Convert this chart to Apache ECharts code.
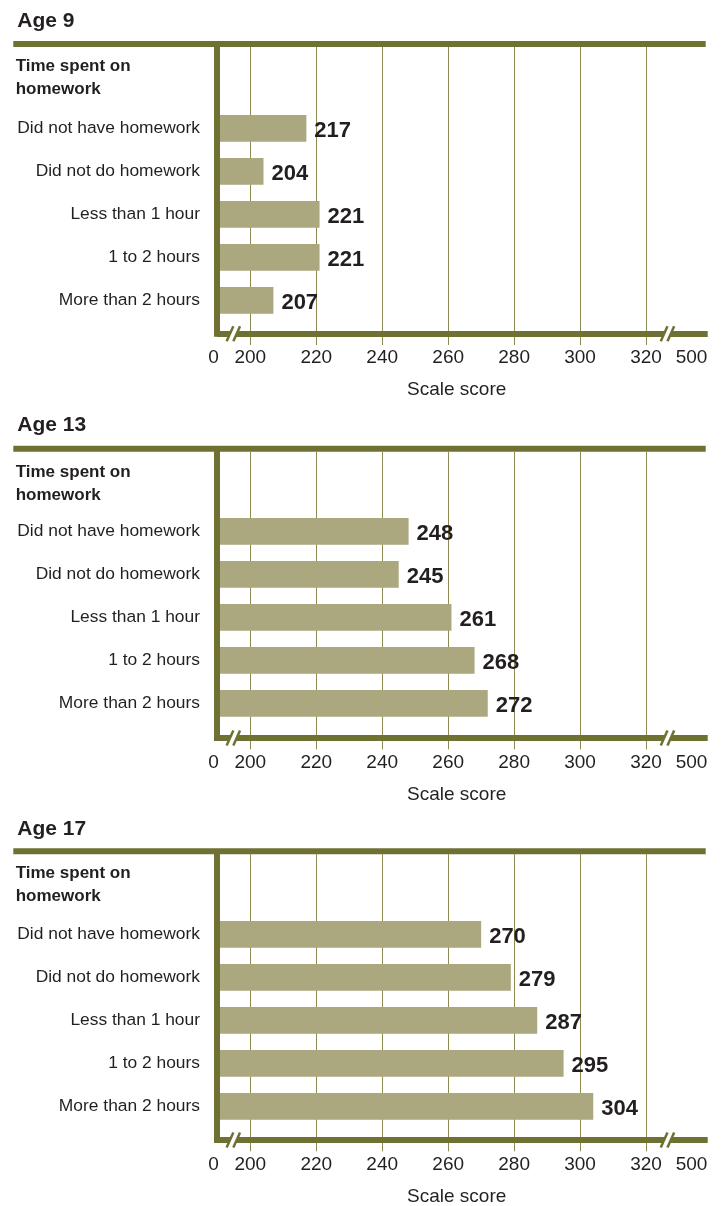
<!DOCTYPE html>
<html>
<head>
<meta charset="utf-8">
<script src="https://cdn.jsdelivr.net/npm/echarts@6/dist/echarts.min.js"></script>
<style>
  html, body { margin: 0; padding: 0; background: #ffffff; }
  #chart { width: 723px; height: 1206px; }
</style>
</head>
<body>
<div id="chart"></div>
<script>
// ---- data ----
const categories = ['Did not have homework', 'Did not do homework', 'Less than 1 hour', '1 to 2 hours', 'More than 2 hours'];
const panelTitles = ['Age 9', 'Age 13', 'Age 17'];
const scoresAge9 = [217, 204, 221, 221, 207];
const scoresAge13 = [248, 245, 261, 268, 272];
const scoresAge17 = [270, 279, 287, 295, 304];
const tickValues = [200, 220, 240, 260, 280, 300, 320];
const breakLowLabel = '0';
const breakHighLabel = '500';
const groupHeading = 'Time spent on\nhomework';
const axisTitle = 'Scale score';

const panelScores = [scoresAge9, scoresAge13, scoresAge17];

// ---- look & layout ----
const OLIVE = '#6f7132';
const GRID_COLOR = '#8d8b52';
const BAR_COLOR = '#aba77f';
const INK = '#231f20';
const FONT = "'Liberation Sans', Arial, Helvetica, sans-serif";

const X_MIN = 189.9;            // left end of the broken scale
const X_MAX = 338.7;            // right end of the broken scale
const HIGH_LABEL_AT = 333.8;    // the "500" label sits past the right break
const BREAK_AT = [194.85, 326.5];
const GRID_LEFT = 217;
const GRID_RIGHT = 723 - 707.7;
const BAND = 43;

const panels = [
  { title: 21.7,  rule: 44,    heading: 54.5,  catTop: 106.8, axis: 333.7 },
  { title: 425.3, rule: 448.8, heading: 460.7, catTop: 509.8, axis: 738 },
  { title: 829,   rule: 851.2, heading: 861.8, catTop: 912.8, axis: 1140 }
];

const grid = [], xAxis = [], yAxis = [], series = [];

panels.forEach((p, i) => {
  const frameTop = p.rule + 3;
  const frameGrid = grid.length;
  grid.push({ left: GRID_LEFT, right: GRID_RIGHT, top: frameTop, height: p.axis - frameTop });
  const barGrid = grid.length;
  grid.push({ left: GRID_LEFT, right: GRID_RIGHT, top: p.catTop, height: BAND * categories.length });

  // vertical grid lines and the short ticks under the axis
  xAxis.push({
    type: 'value', gridIndex: frameGrid, position: 'bottom', min: X_MIN, max: X_MAX, z: 0,
    axisLine: { show: false },
    axisLabel: { show: false },
    axisTick: { show: true, customValues: tickValues, length: 11.3, lineStyle: { color: GRID_COLOR, width: 1 } },
    splitLine: { show: true, lineStyle: { color: GRID_COLOR, width: 1 } }
  });
  // heavy bottom axis with its labels
  xAxis.push({
    type: 'value', gridIndex: frameGrid, position: 'bottom', min: X_MIN, max: X_MAX, z: 2,
    axisLine: { show: true, lineStyle: { color: OLIVE, width: 6, cap: 'butt' } },
    axisTick: { show: false },
    splitLine: { show: false },
    axisLabel: {
      show: true,
      customValues: [X_MIN].concat(tickValues, [HIGH_LABEL_AT]),
      margin: 15, color: INK, fontFamily: FONT, fontSize: 19,
      formatter: v => v === X_MIN ? '{lo|' + breakLowLabel + '}' : (v === HIGH_LABEL_AT ? breakHighLabel : String(v)),
      rich: { lo: { padding: [0, 7, 0, 0], fontSize: 19, fontFamily: FONT, color: INK } }
    }
  });
  // scale used by the bars
  const barX = xAxis.length;
  xAxis.push({ type: 'value', gridIndex: barGrid, position: 'bottom', min: X_MIN, max: X_MAX, show: false });

  // heavy left axis
  yAxis.push({
    type: 'value', gridIndex: frameGrid, position: 'left', min: 0, max: 1, z: 3,
    axisLine: { show: true, lineStyle: { color: OLIVE, width: 6, cap: 'square' } },
    axisTick: { show: false }, axisLabel: { show: false }, splitLine: { show: false }
  });
  const barY = yAxis.length;
  yAxis.push({
    type: 'category', gridIndex: barGrid, position: 'left', data: categories, inverse: true,
    axisLine: { show: false }, axisTick: { show: false }, splitLine: { show: false },
    axisLabel: { margin: 17, color: INK, fontFamily: FONT, fontSize: 17.4, padding: [4, 0, 0, 0] }
  });

  series.push({
    type: 'bar', name: panelTitles[i], xAxisIndex: barX, yAxisIndex: barY,
    data: panelScores[i], barWidth: 26.7,
    itemStyle: { color: BAR_COLOR },
    label: {
      show: true, position: 'right', distance: 8, offset: [0, 2.5],
      color: INK, fontFamily: FONT, fontSize: 22, fontWeight: 'bold'
    }
  });
});

const chart = echarts.init(document.getElementById('chart'), null, { renderer: 'canvas' });
chart.setOption({
  animation: false,
  backgroundColor: '#ffffff',
  grid, xAxis, yAxis, series
});

// decorations: rules, titles, headings and the axis-break marks
const graphic = [];
panels.forEach((p, i) => {
  graphic.push({
    type: 'rect', z: 100, silent: true,
    shape: { x: 13.3, y: p.rule - 3, width: 705.7 - 13.3, height: 6 },
    style: { fill: OLIVE }
  });
  graphic.push({
    type: 'text', z: 100, silent: true, x: 17.3, y: p.title,
    style: { text: panelTitles[i], fill: INK, fontFamily: FONT, fontSize: 21, fontWeight: 'bold', align: 'left', verticalAlign: 'middle' }
  });
  graphic.push({
    type: 'text', z: 100, silent: true, x: 15.7, y: p.heading,
    style: { text: groupHeading, fill: INK, fontFamily: FONT, fontSize: 17, fontWeight: 'bold', lineHeight: 23, align: 'left', verticalAlign: 'top' }
  });
  graphic.push({
    type: 'text', z: 100, silent: true, x: 456.7, y: p.axis + 56.5,
    style: { text: axisTitle, fill: INK, fontFamily: FONT, fontSize: 19, align: 'center', verticalAlign: 'middle' }
  });

  const axisIdx = 3 * i + 1;
  BREAK_AT.forEach(v => {
    const cx = chart.convertToPixel({ xAxisIndex: axisIdx }, v);
    const ay = p.axis;
    const hh = 7.5, hw = 3.35, gap = 3.35;
    const xs = [cx - gap, cx + gap];
    const at = (xc, y) => xc - (y - ay) * (hw / hh);
    graphic.push({
      type: 'polygon', z: 101, silent: true,
      shape: { points: [[at(xs[0], ay - 3.6), ay - 3.6], [at(xs[1], ay - 3.6), ay - 3.6], [at(xs[1], ay + 3.6), ay + 3.6], [at(xs[0], ay + 3.6), ay + 3.6]] },
      style: { fill: '#ffffff' }
    });
    xs.forEach(xc => {
      graphic.push({
        type: 'line', z: 102, silent: true,
        shape: { x1: xc - hw, y1: ay + hh, x2: xc + hw, y2: ay - hh },
        style: { stroke: OLIVE, lineWidth: 2.5 }
      });
    });
  });
});
chart.setOption({ graphic });
</script>
</body>
</html>
